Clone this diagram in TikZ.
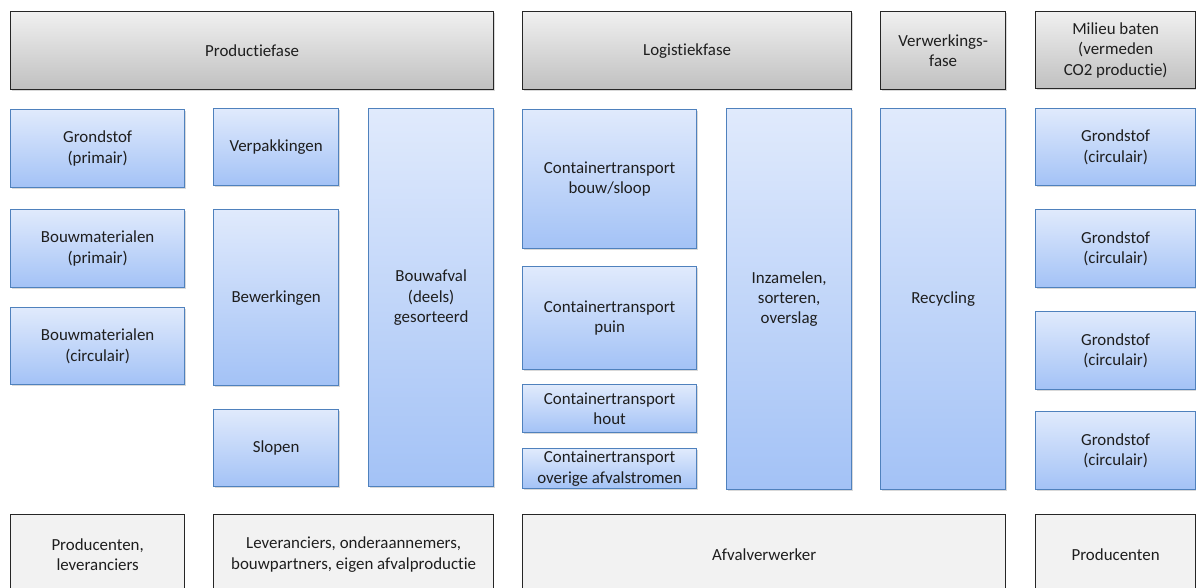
\documentclass[tikz,border=0pt]{standalone}
\usepackage{fontspec}
\setmainfont[Ligatures=NoCommon]{Carlito}
\usepackage{xcolor}
\usetikzlibrary{shadows}
\definecolor{faseTop}{RGB}{240,240,240}
\definecolor{faseBot}{RGB}{192,192,192}
\definecolor{blokTop}{RGB}{224,234,252}
\definecolor{blokBot}{RGB}{163,194,246}
\definecolor{blokRand}{RGB}{79,129,189}
\definecolor{actorVul}{RGB}{242,242,242}
\definecolor{tekst}{RGB}{30,30,30}

\begin{document}
\begin{tikzpicture}[x=1pt, y=-1pt,
  every node/.style = {font=\fontsize{16.9}{20.4}\selectfont, text=tekst, align=center, anchor=north west, inner sep=0pt},
  fase/.style = {draw=black!85, line width=1.3pt, top color=faseTop, bottom color=faseBot, drop shadow={shadow xshift=1pt, shadow yshift=-1.5pt, opacity=0.3}},
  blok/.style = {draw=blokRand, line width=1.3pt, top color=blokTop, bottom color=blokBot, drop shadow={shadow xshift=1pt, shadow yshift=-1.5pt, opacity=0.3}},
  actor/.style = {draw=black!85, line width=1.3pt, fill=actorVul}]
\useasboundingbox (0,0) rectangle (1196,587);

% fasen
\node[fase, minimum width=483, minimum height=78] (productie) at (10,11) {Productiefase};
\node[fase, minimum width=329, minimum height=78] (logistiek) at (522,11) {Logistiekfase};
\node[fase, minimum width=125, minimum height=78] (verwerking) at (880,11) {Verwerkings-\\fase};
\node[fase, minimum width=160, minimum height=77] (milieu) at (1035,11) {Milieu baten\\(vermeden\\CO2 productie)};

% productie
\node[blok, minimum width=174, minimum height=78] (grondPrim) at (10,109) {Grondstof\\(primair)};
\node[blok, minimum width=174, minimum height=78] (bouwPrim) at (10,209) {Bouwmaterialen\\(primair)};
\node[blok, minimum width=174, minimum height=77] (bouwCirc) at (10,307) {Bouwmaterialen\\(circulair)};
\node[blok, minimum width=125, minimum height=77] (verpak) at (213,108) {Verpakkingen};
\node[blok, minimum width=125, minimum height=176] (bewerk) at (213,209) {Bewerkingen};
\node[blok, minimum width=125, minimum height=77] (slopen) at (213,409) {Slopen};
\node[blok, minimum width=125, minimum height=378] (bouwafval) at (368,108) {Bouwafval\\(deels)\\gesorteerd};

% logistiek
\node[blok, minimum width=174, minimum height=139] (ctSloop) at (522,109) {Containertransport\\bouw/sloop};
\node[blok, minimum width=174, minimum height=103] (ctPuin) at (522,266) {Containertransport\\puin};
\node[blok, minimum width=174, minimum height=48] (ctHout) at (522,384) {Containertransport\\hout};
\node[blok, minimum width=174, minimum height=40] (ctOverig) at (522,448) {Containertransport\\overige afvalstromen};
\node[blok, minimum width=125, minimum height=381] (inzamel) at (726,108) {Inzamelen,\\sorteren,\\overslag};

% verwerking
\node[blok, minimum width=125, minimum height=381] (recycling) at (880,108) {Recycling};

% milieu baten
\node[blok, minimum width=160, minimum height=77] (grondCirc1) at (1035,108) {Grondstof\\(circulair)};
\node[blok, minimum width=160, minimum height=78] (grondCirc2) at (1035,209) {Grondstof\\(circulair)};
\node[blok, minimum width=160, minimum height=78] (grondCirc3) at (1035,311) {Grondstof\\(circulair)};
\node[blok, minimum width=160, minimum height=78] (grondCirc4) at (1035,411) {Grondstof\\(circulair)};

% actoren
\node[actor, minimum width=174, minimum height=80] (producenten) at (10,514) {Producenten,\\leveranciers};
\node[actor, minimum width=280, minimum height=80] (leveranciers) at (213,514) {Leveranciers, onderaannemers,\\bouwpartners, eigen afvalproductie};
\node[actor, minimum width=483, minimum height=80] (afvalverwerker) at (522,514) {Afvalverwerker};
\node[actor, minimum width=160, minimum height=80] (producenten2) at (1035,514) {Producenten};
\end{tikzpicture}
\end{document}
